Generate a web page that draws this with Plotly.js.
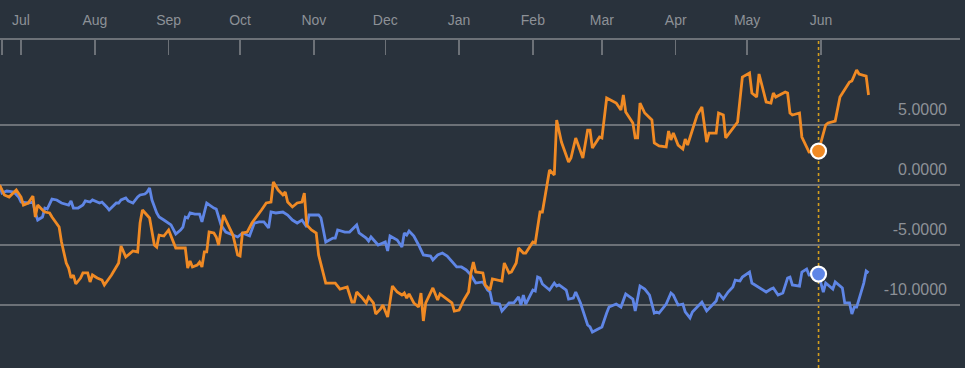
<!DOCTYPE html>
<html>
<head>
<meta charset="utf-8">
<script src="https://cdn.plot.ly/plotly-3.0.1.min.js"></script>
<style>
html,body{margin:0;padding:0;background:#29323c;}
#chart{width:965px;height:368px;}
</style>
</head>
<body>
<div id="chart"></div>
<script>
const orangeDates = ['2023-06-22','2023-06-24','2023-06-26','2023-06-28','2023-06-29','2023-07-01','2023-07-02','2023-07-04','2023-07-06','2023-07-07','2023-07-08','2023-07-10','2023-07-11','2023-07-13','2023-07-14','2023-07-17','2023-07-18','2023-07-20','2023-07-21','2023-07-22','2023-07-23','2023-07-24','2023-07-26','2023-07-27','2023-07-29','2023-07-30','2023-07-31','2023-08-02','2023-08-04','2023-08-05','2023-08-08','2023-08-11','2023-08-12','2023-08-14','2023-08-16','2023-08-17','2023-08-19','2023-08-20','2023-08-21','2023-08-23','2023-08-24','2023-08-26','2023-08-27','2023-08-28','2023-08-30','2023-09-01','2023-09-02','2023-09-04','2023-09-06','2023-09-08','2023-09-09','2023-09-10','2023-09-11','2023-09-13','2023-09-14','2023-09-15','2023-09-16','2023-09-17','2023-09-18','2023-09-20','2023-09-21','2023-09-22','2023-09-24','2023-09-26','2023-09-28','2023-09-30','2023-10-01','2023-10-02','2023-10-04','2023-10-06','2023-10-07','2023-10-09','2023-10-10','2023-10-12','2023-10-14','2023-10-15','2023-10-17','2023-10-19','2023-10-20','2023-10-21','2023-10-23','2023-10-25','2023-10-27','2023-10-28','2023-10-29','2023-10-31','2023-11-02','2023-11-03','2023-11-04','2023-11-06','2023-11-08','2023-11-10','2023-11-12','2023-11-14','2023-11-15','2023-11-17','2023-11-18','2023-11-19','2023-11-21','2023-11-23','2023-11-24','2023-11-26','2023-11-27','2023-11-29','2023-11-30','2023-12-02','2023-12-04','2023-12-06','2023-12-08','2023-12-09','2023-12-10','2023-12-11','2023-12-13','2023-12-15','2023-12-16','2023-12-17','2023-12-18','2023-12-21','2023-12-23','2023-12-24','2023-12-27','2023-12-29','2023-12-30','2024-01-01','2024-01-03','2024-01-05','2024-01-06','2024-01-07','2024-01-08','2024-01-11','2024-01-12','2024-01-14','2024-01-15','2024-01-19','2024-01-20','2024-01-22','2024-01-23','2024-01-25','2024-01-26','2024-01-28','2024-01-29','2024-02-01','2024-02-02','2024-02-04','2024-02-05','2024-02-08','2024-02-10','2024-02-11','2024-02-13','2024-02-16','2024-02-17','2024-02-19','2024-02-22','2024-02-24','2024-02-25','2024-02-26','2024-02-29','2024-03-01','2024-03-03','2024-03-07','2024-03-09','2024-03-10','2024-03-11','2024-03-14','2024-03-15','2024-03-16','2024-03-17','2024-03-19','2024-03-22','2024-03-23','2024-03-25','2024-03-28','2024-03-29','2024-03-30','2024-03-31','2024-04-02','2024-04-04','2024-04-05','2024-04-06','2024-04-08','2024-04-10','2024-04-12','2024-04-14','2024-04-15','2024-04-18','2024-04-19','2024-04-21','2024-04-22','2024-04-27','2024-04-29','2024-05-02','2024-05-03','2024-05-05','2024-05-06','2024-05-09','2024-05-11','2024-05-12','2024-05-13','2024-05-17','2024-05-18','2024-05-19','2024-05-20','2024-05-23','2024-05-24','2024-05-27','2024-05-31','2024-06-03','2024-06-04','2024-06-07','2024-06-09','2024-06-13','2024-06-14','2024-06-16','2024-06-17','2024-06-20','2024-06-21'];
const orangeValues = [0,-0.83,-1.0,-0.58,-0.42,-1.0,-1.67,-1.5,-0.92,-2.67,-1.67,-2.08,-2.25,-2.33,-2.67,-3.5,-4.75,-6.5,-6.92,-7.75,-7.5,-8.25,-7.75,-7.33,-7.33,-8.08,-7.5,-7.75,-7.92,-8.33,-7.5,-6.5,-5.08,-6.0,-5.67,-5.5,-5.58,-3.17,-2.08,-2.5,-2.75,-5.0,-5.17,-4.17,-4.25,-3.75,-4.25,-5.25,-5.25,-5.25,-6.92,-6.33,-6.83,-6.67,-6.42,-6.83,-5.58,-5.58,-3.92,-4.0,-4.33,-5.0,-2.5,-3.33,-4.17,-5.83,-5.92,-4.0,-3.92,-3.17,-2.92,-2.33,-2.08,-1.5,-1.42,0.25,-0.42,-0.83,-0.58,-1.42,-1.83,-1.5,-1.42,-0.67,-3.33,-3.75,-4.0,-5.83,-6.67,-8.17,-8.17,-8.17,-8.67,-8.58,-8.5,-9.75,-9.75,-8.92,-9.33,-9.83,-9.33,-9.83,-10.75,-10.33,-10.0,-11.0,-8.42,-8.92,-9.17,-9.0,-9.42,-9.08,-9.83,-10.17,-9.0,-11.33,-9.83,-8.58,-9.58,-9.08,-9.5,-9.83,-10.5,-10.42,-9.58,-8.92,-7.33,-6.42,-7.25,-7.33,-8.33,-8.75,-7.83,-8.0,-6.5,-7.33,-7.25,-6.5,-5.25,-5.67,-5.67,-4.75,-4.83,-2.25,-2.25,1.25,0.83,5.42,3.58,1.92,2.25,3.92,2.25,4.58,4.58,3.08,4.0,3.92,7.25,6.83,6.25,7.5,6.08,5.17,3.92,3.92,6.83,6.0,5.42,3.5,3.25,3.17,4.5,3.75,4.33,3.33,3.0,3.83,3.33,4.58,5.83,6.5,3.58,4.33,4.33,6.0,5.83,3.92,5.25,9.0,9.33,7.67,7.33,9.25,6.92,6.83,7.67,7.33,7.75,7.67,6.0,5.83,6.0,4.0,2.75,2.83,5.0,5.17,5.33,7.33,8.58,8.67,9.58,9.25,9.08,7.5];

const blueDates = ['2023-06-22','2023-06-23','2023-06-25','2023-06-28','2023-06-30','2023-07-01','2023-07-04','2023-07-06','2023-07-07','2023-07-08','2023-07-10','2023-07-11','2023-07-12','2023-07-14','2023-07-16','2023-07-18','2023-07-21','2023-07-22','2023-07-23','2023-07-25','2023-07-27','2023-07-28','2023-07-30','2023-07-31','2023-08-03','2023-08-04','2023-08-06','2023-08-07','2023-08-10','2023-08-11','2023-08-12','2023-08-14','2023-08-15','2023-08-17','2023-08-19','2023-08-20','2023-08-22','2023-08-23','2023-08-24','2023-08-25','2023-08-27','2023-08-28','2023-08-30','2023-09-01','2023-09-02','2023-09-04','2023-09-06','2023-09-07','2023-09-08','2023-09-09','2023-09-10','2023-09-12','2023-09-14','2023-09-15','2023-09-17','2023-09-20','2023-09-21','2023-09-23','2023-09-25','2023-09-28','2023-09-30','2023-10-02','2023-10-05','2023-10-07','2023-10-09','2023-10-11','2023-10-13','2023-10-14','2023-10-16','2023-10-19','2023-10-21','2023-10-23','2023-10-25','2023-10-27','2023-10-28','2023-10-29','2023-10-30','2023-11-03','2023-11-04','2023-11-06','2023-11-09','2023-11-10','2023-11-11','2023-11-14','2023-11-16','2023-11-19','2023-11-20','2023-11-23','2023-11-24','2023-11-25','2023-11-28','2023-11-30','2023-12-01','2023-12-02','2023-12-03','2023-12-06','2023-12-08','2023-12-09','2023-12-10','2023-12-11','2023-12-13','2023-12-15','2023-12-17','2023-12-20','2023-12-21','2023-12-23','2023-12-25','2023-12-27','2023-12-29','2023-12-31','2024-01-02','2024-01-04','2024-01-06','2024-01-08','2024-01-11','2024-01-13','2024-01-14','2024-01-15','2024-01-18','2024-01-19','2024-01-22','2024-01-24','2024-01-26','2024-01-27','2024-01-28','2024-01-29','2024-02-01','2024-02-02','2024-02-03','2024-02-04','2024-02-05','2024-02-08','2024-02-10','2024-02-11','2024-02-12','2024-02-15','2024-02-16','2024-02-18','2024-02-19','2024-02-21','2024-02-24','2024-02-25','2024-02-26','2024-03-01','2024-03-03','2024-03-04','2024-03-07','2024-03-09','2024-03-11','2024-03-14','2024-03-15','2024-03-17','2024-03-19','2024-03-21','2024-03-23','2024-03-24','2024-03-25','2024-03-28','2024-03-30','2024-03-31','2024-04-02','2024-04-04','2024-04-05','2024-04-07','2024-04-08','2024-04-11','2024-04-12','2024-04-14','2024-04-18','2024-04-19','2024-04-21','2024-04-23','2024-04-25','2024-04-26','2024-04-28','2024-04-29','2024-05-02','2024-05-03','2024-05-06','2024-05-09','2024-05-11','2024-05-12','2024-05-14','2024-05-16','2024-05-18','2024-05-19','2024-05-20','2024-05-23','2024-05-24','2024-05-26','2024-05-27','2024-05-31','2024-06-01','2024-06-02','2024-06-03','2024-06-06','2024-06-07','2024-06-10','2024-06-11','2024-06-13','2024-06-14','2024-06-15','2024-06-16','2024-06-19','2024-06-20','2024-06-21'];
const blueValues = [0,-0.67,-0.5,-0.58,-1.0,-1.42,-1.5,-1.42,-2.33,-2.92,-2.67,-1.92,-2.0,-1.17,-1.25,-1.5,-1.67,-1.33,-1.92,-1.92,-1.67,-1.33,-1.42,-1.25,-1.5,-1.42,-1.83,-2.08,-1.5,-1.5,-1.25,-1.08,-1.33,-1.5,-1.0,-0.83,-0.75,-0.58,-0.25,-1.25,-2.33,-2.67,-2.92,-3.17,-3.33,-4.08,-3.75,-3.5,-2.67,-2.75,-2.33,-2.42,-2.42,-3.08,-1.5,-1.92,-2.0,-3.33,-3.92,-4.17,-4.33,-4.0,-4.25,-3.17,-3.08,-3.08,-3.58,-2.25,-2.33,-2.25,-2.5,-2.92,-3.17,-2.92,-3.25,-3.5,-2.5,-2.5,-2.75,-4.75,-4.42,-4.42,-3.75,-3.92,-3.92,-3.33,-4.0,-4.42,-4.67,-4.33,-5.0,-4.83,-4.75,-5.5,-4.25,-4.58,-5.17,-4.0,-4.17,-3.83,-4.25,-5.0,-5.83,-5.92,-6.25,-5.83,-5.67,-5.92,-6.42,-6.83,-6.83,-7.08,-7.5,-8.17,-8.08,-8.75,-8.92,-9.83,-9.92,-10.5,-9.83,-9.83,-9.33,-10.0,-9.17,-9.92,-8.75,-8.83,-7.67,-7.75,-8.25,-8.75,-8.17,-8.42,-8.33,-8.75,-9.5,-9.42,-8.92,-9.83,-11.67,-11.83,-12.25,-11.83,-10.67,-10.17,-9.92,-10.17,-9.08,-9.5,-10.5,-8.42,-8.67,-9.17,-10.67,-10.58,-10.67,-9.92,-9.0,-9.17,-10.0,-9.92,-10.58,-11.08,-10.58,-10.0,-9.75,-10.5,-9.67,-9.0,-9.5,-8.92,-8.5,-7.92,-8.0,-7.67,-7.25,-8.17,-8.58,-8.92,-8.67,-8.58,-9.17,-9.0,-7.75,-7.67,-8.33,-8.42,-7.25,-7.0,-7.5,-7.42,-8.17,-8.92,-8.17,-8.67,-8.08,-8.58,-9.83,-9.83,-10.75,-10.17,-10.17,-8.17,-7.17,-7.33];

const monthTicks = ['2023-07-01','2023-08-01','2023-09-01','2023-10-01','2023-11-01','2023-12-01','2024-01-01','2024-02-01','2024-03-01','2024-04-01','2024-05-01','2024-06-01'];
const monthLabels = ['Jul','Aug','Sep','Oct','Nov','Dec','Jan','Feb','Mar','Apr','May','Jun'];
const xRange = ['2023-06-22 04:00','2024-07-29 10:00'];
const edgeTicks = ['2023-06-22 22:00','2024-07-28 14:00'];
const yTickVals = [-10,-5,0,5];
const yTickText = ['-10.0000','-5.0000','0.0000','5.0000'];
const crosshairDate = '2024-05-31';

const ORANGE = '#f08a24';
const BLUE = '#5f86e6';
const GRID = '#6c7177';
const TEXT = '#8d9197';

const oIdx = orangeDates.indexOf(crosshairDate);
const bIdx = blueDates.indexOf(crosshairDate);

const traces = [
  {x: blueDates, y: blueValues, type:'scatter', mode:'lines', line:{color:BLUE, width:2.8}, hoverinfo:'skip'},
  {x: orangeDates, y: orangeValues, type:'scatter', mode:'lines', line:{color:ORANGE, width:2.8}, hoverinfo:'skip'},
  {x: [orangeDates[oIdx]], y: [orangeValues[oIdx]], type:'scatter', mode:'markers',
   marker:{color:ORANGE, size:15, line:{color:'#ffffff', width:2.2}}, hoverinfo:'skip'},
  {x: [blueDates[bIdx]], y: [blueValues[bIdx]], type:'scatter', mode:'markers',
   marker:{color:BLUE, size:15, line:{color:'#ffffff', width:2.2}}, hoverinfo:'skip'}
];

const layout = {
  width: 965, height: 368,
  margin: {l:0, r:5, t:40, b:0, pad:0},
  paper_bgcolor: '#29323c',
  plot_bgcolor: '#29323c',
  showlegend: false,
  font: {family:'Liberation Sans, Arial, sans-serif', color:TEXT},
  xaxis: {
    type:'date', side:'top', range: xRange,
    tickmode:'array',
    tickvals: monthTicks.concat(edgeTicks),
    ticktext: monthLabels.concat(['','']),
    ticks:'inside', ticklen:15, tickwidth:1.5, tickcolor:GRID,
    ticklabelstandoff: 7,
    showline:true, linecolor:GRID, linewidth:2,
    showgrid:false, zeroline:false,
    tickfont:{size:14, color:TEXT}
  },
  yaxis: {
    side:'right', range:[-15.25, 12.083],
    tickmode:'array', tickvals:yTickVals, ticktext:yTickText,
    ticks:'', ticklabelposition:'inside',
    ticklabelshift: -16, ticklabelstandoff: 10,
    showgrid:true, gridcolor:GRID, gridwidth:1.5,
    zeroline:false, showline:false,
    tickfont:{size:16, color:TEXT}
  },
  shapes: [{
    type:'line', xref:'x', yref:'paper', x0:crosshairDate, x1:crosshairDate, y0:0, y1:1,
    line:{color:'#d39d1e', width:1.6, dash:'dot'}, layer:'below'
  }]
};

Plotly.newPlot('chart', traces, layout, {displayModeBar:false, staticPlot:true});
</script>
</body>
</html>
